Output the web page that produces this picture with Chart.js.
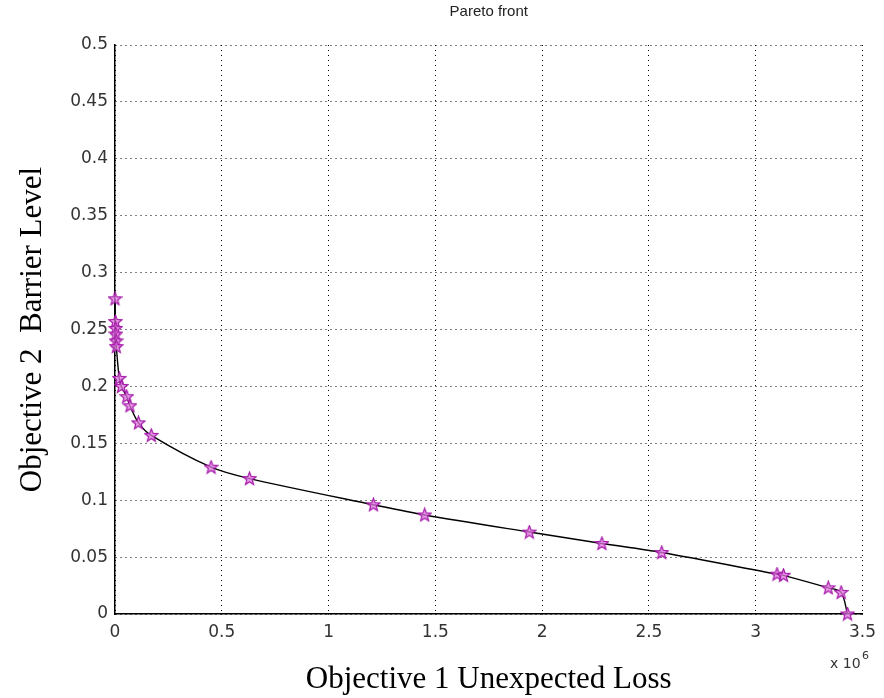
<!DOCTYPE html>
<html>
<head>
<meta charset="utf-8">
<title>Pareto front</title>
<script src="https://cdn.jsdelivr.net/npm/chart.js@4"></script>
<style>
  html, body { margin: 0; padding: 0; background: #fff; }
  #wrap { width: 884px; height: 698px; position: relative; }
</style>
</head>
<body>
<div id="wrap"><canvas id="pareto"></canvas></div>
<script>
// Objective 1: unexpected loss (x 10^6), Objective 2: barrier level
const lossMillions = [0.000, 0.002, 0.003, 0.004, 0.005, 0.006, 0.020, 0.030, 0.055, 0.070,
  0.110, 0.170, 0.450, 0.630, 1.210, 1.450, 1.940, 2.280, 2.560, 3.100, 3.130, 3.340, 3.400, 3.430];
const barrier = [0.277, 0.257, 0.251, 0.246, 0.240, 0.235, 0.207, 0.200, 0.191, 0.183,
  0.168, 0.157, 0.129, 0.119, 0.096, 0.087, 0.072, 0.062, 0.054, 0.035, 0.034, 0.023, 0.019, 0.000];
const xTicks = [0, 0.5, 1, 1.5, 2, 2.5, 3, 3.5];
const yTicks = [0, 0.05, 0.1, 0.15, 0.2, 0.25, 0.3, 0.35, 0.4, 0.45, 0.5];

// pentagram marker like matlab 'p'
function makeStar() {
  const c = document.createElement("canvas");
  c.width = 15; c.height = 15;
  const g = c.getContext("2d");
  g.beginPath();
  for (let i = 0; i < 10; i++) {
    const r = i % 2 === 0 ? 6.8 : 2.9;
    const a = -Math.PI / 2 + i * Math.PI / 5;
    const px = 7.5 + r * Math.cos(a), py = 7.8 + r * Math.sin(a);
    i === 0 ? g.moveTo(px, py) : g.lineTo(px, py);
  }
  g.closePath();
  g.fillStyle = "rgba(225,120,225,0.75)";
  g.fill();
  g.strokeStyle = "#a419a8";
  g.lineWidth = 1.2;
  g.stroke();
  return c;
}

const points = lossMillions.map((x, i) => ({ x: x, y: barrier[i] }));
const tickFont = { family: "DejaVu Sans", size: 17 };
const labelFont = { family: "Liberation Serif", size: 31, weight: "normal" };

// "x 10^6" multiplier under the x axis
const exponentLabel = {
  id: "exponentLabel",
  afterDraw(chart) {
    const ctx = chart.ctx;
    ctx.save();
    ctx.fillStyle = "#333";
    ctx.textBaseline = "alphabetic";
    ctx.font = "14px 'DejaVu Sans'";
    ctx.fillText("x 10", 830, 668);
    ctx.font = "11px 'DejaVu Sans'";
    ctx.fillText("6", 862, 659);
    ctx.restore();
  }
};

new Chart(document.getElementById("pareto"), {
  type: "scatter",
  data: {
    datasets: [{
      label: "Pareto front",
      data: points,
      showLine: true,
      clip: false,
      borderColor: "#000",
      borderWidth: 1.4,
      tension: 0.3,
      pointStyle: makeStar(),
      pointRadius: 7,
      pointHoverRadius: 7
    }]
  },
  options: {
    responsive: true,
    maintainAspectRatio: false,
    animation: false,
    layout: { padding: { left: 0, right: 17, top: 0, bottom: 0 } },
    plugins: {
      legend: { display: false },
      tooltip: { enabled: false },
      title: {
        display: true,
        fullSize: false,
        text: "Pareto front",
        color: "#222",
        font: { family: "Liberation Sans", size: 15, weight: "normal" },
        padding: { top: 3, bottom: 24 }
      }
    },
    scales: {
      x: {
        type: "linear",
        min: 0, max: 3.5,
        afterBuildTicks: s => { s.ticks = xTicks.map(v => ({ value: v })); },
        afterFit: s => { s.height = 84; },
        ticks: { color: "#333", font: tickFont, padding: 8, callback: v => String(v) },
        grid: { color: "#000", lineWidth: 1, tickLength: 0 },
        border: { display: true, color: "#000", width: 1.5, dash: [1, 4] },
        title: {
          display: true, text: "Objective 1 Unexpected Loss", color: "#000",
          font: labelFont, padding: { top: 0, bottom: 0 }
        }
      },
      y: {
        type: "linear",
        min: 0, max: 0.5,
        afterBuildTicks: s => { s.ticks = yTicks.map(v => ({ value: v })); },
        afterFit: s => { s.width = 115; },
        ticks: { color: "#333", font: tickFont, padding: 7, callback: v => String(Number(v.toFixed(2))) },
        grid: { color: "#000", lineWidth: 1, tickLength: 0 },
        border: { display: true, color: "#000", width: 1.5, dash: [1, 4] },
        title: {
          display: true, text: "Objective 2  Barrier Level", color: "#000",
          font: labelFont, padding: { top: 14, bottom: 0 }
        }
      }
    }
  },
  plugins: [exponentLabel]
});
</script>
</body>
</html>
